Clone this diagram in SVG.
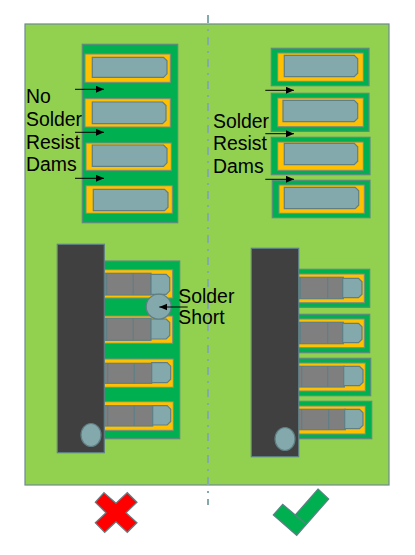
<svg xmlns="http://www.w3.org/2000/svg" width="415" height="555" viewBox="0 0 415 555">
<style>
text{font-family:"Liberation Sans",Arial,sans-serif;font-size:19.4px;fill:#000}
.mask{fill:#00b050;stroke:#5f8a80;stroke-width:1.2}
.pad{fill:#ffc000;stroke:#7f8a80;stroke-width:1}
.teal{fill:#84a9ac;stroke:#5f7f85;stroke-width:1.2}
.lead{fill:#7f7f7f;stroke:#5f7f85;stroke-width:1.2}
.ic{fill:#404040;stroke:#5f7f85;stroke-width:1.2}
.arrow{stroke:#000;stroke-width:1;fill:none;marker-end:url(#ah)}
</style>
<defs>
<marker id="ah" markerUnits="userSpaceOnUse" markerWidth="9" markerHeight="8" refX="8" refY="3.5" orient="auto"><path d="M0 0L8 3.5L0 7Z" fill="#000"/></marker>
</defs>
<rect id="board" x="25" y="24" width="364" height="461" fill="#92d050" stroke="#6d8a90" stroke-width="1.2"/>
<line id="centerline" x1="208" y1="15" x2="208" y2="505" stroke="#84a9ac" stroke-width="2" stroke-dasharray="8 6 2 6"/>
<g id="left-top">
<rect class="mask" x="82.3" y="44.3" width="95.4" height="178.4"/>
<rect class="pad" x="85" y="54" width="85.3" height="28.3"/>
<path class="teal" d="M92.3 57.3H163.5L167 60.8V73.8L163.5 77.3H92.3Z"/>
<rect class="pad" x="85" y="98.7" width="85.3" height="28.3"/>
<path class="teal" d="M92.3 102H162.5L166 105.5V120.2L162.5 123.7H92.3Z"/>
<rect class="pad" x="86" y="143" width="85.3" height="27.3"/>
<path class="teal" d="M92.3 145H163.5L167 148.5V162.8L163.5 166.3H92.3Z"/>
<rect class="pad" x="86" y="185.7" width="86.3" height="27.6"/>
<path class="teal" d="M93.3 189.3H164.5L168 192.8V207.2L164.5 210.7H93.3Z"/>
</g>
<g id="right-top">
<rect class="mask" x="271.3" y="48.3" width="97.7" height="37.4"/>
<rect class="pad" x="277.7" y="53" width="85.6" height="28.3"/>
<path class="teal" d="M284.3 55.3H354.2L357.7 58.8V73.2L354.2 76.7H284.3Z"/>
<rect class="mask" x="271.3" y="93.3" width="97.7" height="38"/>
<rect class="pad" x="277.7" y="98" width="85.6" height="28.7"/>
<path class="teal" d="M283 100.3H354.2L357.7 103.8V118.2L354.2 121.7H283Z"/>
<rect class="mask" x="271.3" y="137.3" width="98.7" height="37.4"/>
<rect class="pad" x="277.7" y="142" width="85.6" height="28.3"/>
<path class="teal" d="M284.3 143.3H354.2L357.7 146.8V161.2L354.2 164.7H284.3Z"/>
<rect class="mask" x="272.3" y="180.3" width="97.7" height="37.4"/>
<rect class="pad" x="279" y="185" width="85.3" height="28.3"/>
<path class="teal" d="M284.3 187.3H355.2L358.7 190.8V205.2L355.2 208.7H284.3Z"/>
</g>
<g id="left-bottom">
<rect class="mask" x="100" y="261" width="79.7" height="177.7"/>
<rect class="pad" x="100" y="269.7" width="72.7" height="28.3"/>
<rect class="lead" x="100" y="273.3" width="51" height="21.7"/><line class="lead" x1="106.7" y1="273.3" x2="106.7" y2="295"/><line class="lead" x1="133.3" y1="273.3" x2="133.3" y2="295"/>
<path class="teal" d="M151 274.3H166.2L169.7 277.8V290.8L166.2 294.3H151Z"/>
<rect class="pad" x="100" y="316" width="72.7" height="27.3"/>
<rect class="lead" x="100" y="318.3" width="51" height="22"/><line class="lead" x1="106.7" y1="318.3" x2="106.7" y2="340.3"/><line class="lead" x1="133.3" y1="318.3" x2="133.3" y2="340.3"/>
<path class="teal" d="M151 319H166.2L169.7 322.5V335.5L166.2 339H151Z"/>
<rect class="pad" x="100" y="359" width="73.3" height="28.3"/>
<rect class="lead" x="100" y="363.3" width="51.7" height="20"/><line class="lead" x1="107.7" y1="363.3" x2="107.7" y2="383.3"/><line class="lead" x1="134.3" y1="363.3" x2="134.3" y2="383.3"/>
<path class="teal" d="M151.7 362.7H167.2L170.7 366.2V379.2L167.2 382.7H151.7Z"/>
<rect class="pad" x="100" y="401.7" width="73.3" height="28.6"/>
<rect class="lead" x="100" y="405.7" width="52.7" height="20.3"/><line class="lead" x1="107.7" y1="405.7" x2="107.7" y2="426"/><line class="lead" x1="134.3" y1="405.7" x2="134.3" y2="426"/>
<path class="teal" d="M152.7 405.7H167.2L170.7 409.2V421.5L167.2 425H152.7Z"/>
<rect class="ic" x="57.3" y="244.3" width="47" height="208.4"/>
<ellipse class="teal" cx="91" cy="435" rx="10" ry="11.5"/>
</g>
<g id="solder-short">
<circle class="teal" cx="158.7" cy="306.7" r="12.5"/>
</g>
<g id="right-bottom">
<rect class="mask" x="295" y="269.3" width="74.7" height="38"/>
<rect class="pad" x="295" y="274" width="69.3" height="28.7"/>
<rect class="lead" x="295" y="277.3" width="48.3" height="21.4"/><line class="lead" x1="300.3" y1="277.3" x2="300.3" y2="298.7"/><line class="lead" x1="327.7" y1="277.3" x2="327.7" y2="298.7"/>
<path class="teal" d="M342.7 278.3H358.5L362 281.8V294.2L358.5 297.7H342.7Z"/>
<rect class="mask" x="295" y="314.3" width="74.7" height="38.4"/>
<rect class="pad" x="295" y="319" width="69.3" height="28.7"/>
<rect class="lead" x="295" y="322.3" width="48.3" height="21.4"/><line class="lead" x1="300.3" y1="322.3" x2="300.3" y2="343.7"/><line class="lead" x1="327.7" y1="322.3" x2="327.7" y2="343.7"/>
<path class="teal" d="M342.7 323.3H358.5L362 326.8V339.2L358.5 342.7H342.7Z"/>
<rect class="mask" x="295" y="358.3" width="75.7" height="37.4"/>
<rect class="pad" x="295" y="363" width="70.3" height="28"/>
<rect class="lead" x="295" y="366.3" width="49.3" height="20.7"/><line class="lead" x1="301.7" y1="366.3" x2="301.7" y2="387"/><line class="lead" x1="327.7" y1="366.3" x2="327.7" y2="387"/>
<path class="teal" d="M343.7 366.3H359.5L363 369.8V382.2L359.5 385.7H343.7Z"/>
<rect class="mask" x="295" y="401.3" width="76.7" height="37.4"/>
<rect class="pad" x="295" y="406" width="70.3" height="28"/>
<rect class="lead" x="295" y="409.3" width="50.3" height="20.4"/><line class="lead" x1="301.7" y1="409.3" x2="301.7" y2="429.7"/><line class="lead" x1="328.7" y1="409.3" x2="328.7" y2="429.7"/>
<path class="teal" d="M344.7 409.3H359.5L363 412.8V425.2L359.5 428.7H344.7Z"/>
<rect class="ic" x="251.3" y="248.3" width="47.4" height="208.4"/>
<ellipse class="teal" cx="285" cy="439" rx="10" ry="11.5"/>
</g>
<g id="connectors">
<line class="arrow" x1="75" y1="89.3" x2="104" y2="89.3"/>
<line class="arrow" x1="75" y1="132.3" x2="104" y2="132.3"/>
<line class="arrow" x1="75" y1="178.3" x2="104" y2="178.3"/>
<line class="arrow" x1="265.3" y1="90.3" x2="294" y2="90.3"/>
<line class="arrow" x1="265.3" y1="133.7" x2="294" y2="133.7"/>
<line class="arrow" x1="265.3" y1="179.3" x2="294" y2="179.3"/>
<line class="arrow" x1="187.7" y1="307" x2="159.3" y2="307"/>
</g>
<g id="labels">
<text x="26" y="103.3">No</text>
<text x="26" y="126">Solder</text>
<text x="26" y="148.7">Resist</text>
<text x="26" y="170.7">Dams</text>
<text x="213" y="128.3">Solder</text>
<text x="213" y="150.3">Resist</text>
<text x="213" y="173.3">Dams</text>
<text x="178.3" y="302.7">Solder</text>
<text x="178.3" y="324.3">Short</text>
</g>
<g id="cross">
<path d="M104 492.7L116 503.3L127.3 492.7L137 502.3L126 512.7L137 522.7L127.3 532.3L116 521.7L104.7 532.3L95.3 522.7L106 512.7L95.3 502.3Z" fill="#ff0000" stroke="#5f7f85" stroke-width="1.2"/>
</g>
<g id="check">
<path d="M318 489L328.7 499L296.7 535.3L273.3 515L282.7 504.3L295.3 515Z" fill="#00b050" stroke="#5f7f85" stroke-width="1.2"/>
<line x1="295.3" y1="515" x2="305" y2="523.3" stroke="#5f7f85" stroke-width="1.2"/>
</g>
</svg>
